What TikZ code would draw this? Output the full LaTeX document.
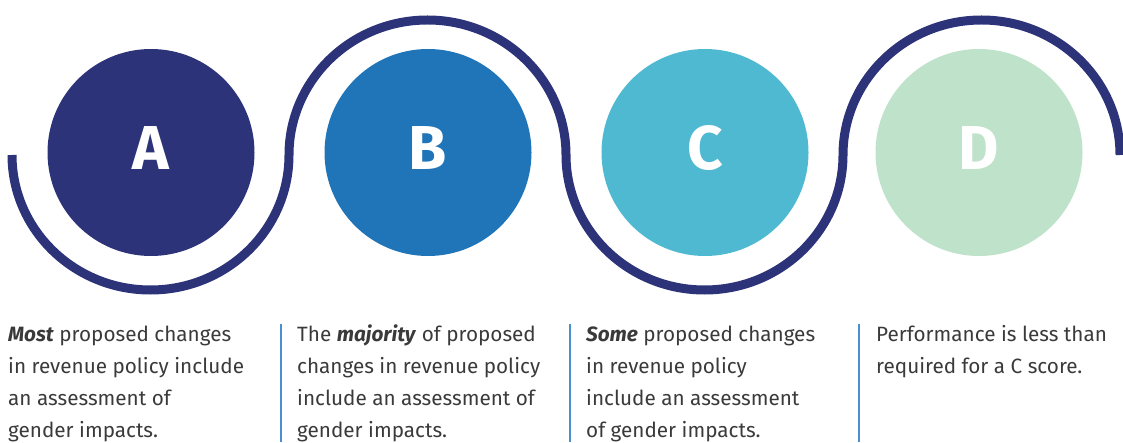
\documentclass[tikz,border=0pt]{standalone}
\usepackage{fontspec}
\setmainfont{Fira Sans}
\usepackage{xcolor}
\usepackage{tikz}

\definecolor{navy}{HTML}{2C3378}
\definecolor{gradeA}{HTML}{2C3378}
\definecolor{gradeB}{HTML}{2075B9}
\definecolor{gradeC}{HTML}{4FB9D2}
\definecolor{gradeD}{HTML}{BFE2CB}
\definecolor{bodytext}{HTML}{3A3A3A}
\definecolor{rule}{HTML}{4A8FD0}

\tikzset{
  disc/.style={circle,inner sep=0pt,minimum size=207pt},
  grade/.style={text=white,inner sep=0pt,font=\fontsize{62}{62}\selectfont\bfseries},
  desc/.style={anchor=north west,inner sep=0pt,align=left,text=bodytext,
    font=\fontsize{20.7}{32}\selectfont},
  sep/.style={rule,line width=1.5pt}
}

\begin{document}
\begin{tikzpicture}[x=1pt,y=1pt]
			\useasboundingbox (0,0) rectangle (1123,442);
			% the wavy line
			\draw[navy,line width=9pt] (12,287)
				arc[start angle=180,end angle=360,x radius=138.5,y radius=135]
				arc[start angle=180,end angle=0,x radius=138.5,y radius=135]
				arc[start angle=180,end angle=360,x radius=138.5,y radius=135]
				arc[start angle=180,end angle=0,x radius=138.5,y radius=135];
			% grades
			\foreach \g/\x in {A/151,B/428,C/705,D/979}{
				\node[disc,fill=grade\g] (disc\g) at (\x,289.5) {};
				\node[grade] (let\g) at ([yshift=4pt]disc\g.center) {\g};
			}
			% descriptions
			\node[desc] (txtA) at (8,122.9) {\strut\textbf{\textit{Most}} proposed changes\\
				in revenue policy include\\ an assessment of\\ gender impacts.};
			\node[desc] (txtB) at (297,122.9) {\strut The \textbf{\textit{majority}} of proposed\\
				changes in revenue policy\\ include an assessment of\\ gender impacts.};
			\node[desc] (txtC) at (586,122.9) {\strut\textbf{\textit{Some}} proposed changes\\
				in revenue policy\\ include an assessment\\ of gender impacts.};
			\node[desc] (txtD) at (876,122.9) {\strut Performance is less than\\
				required for a C score.};
			\foreach \x in {281,570,859}{
				\draw[sep] (\x,118) -- (\x,0);
			}
		\end{tikzpicture}
\end{document}
